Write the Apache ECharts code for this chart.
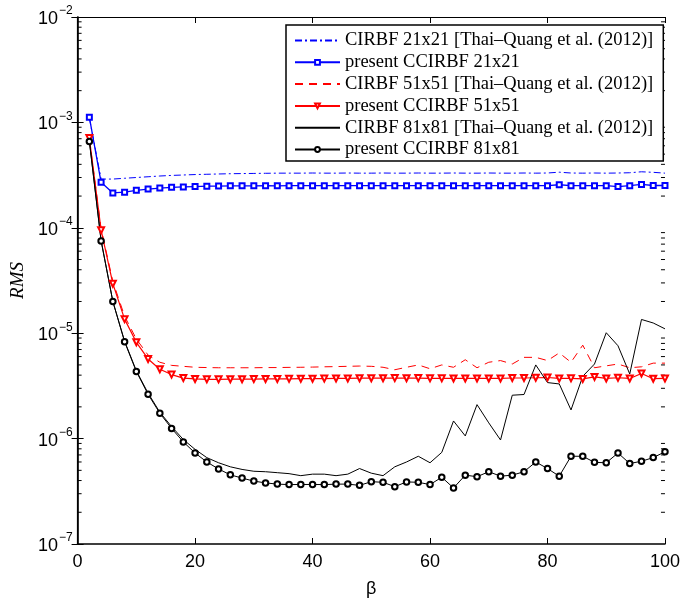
<!DOCTYPE html>
<html><head><meta charset="utf-8">
<script src="https://cdn.jsdelivr.net/npm/echarts@6/dist/echarts.min.js"></script>
<style>html,body{margin:0;padding:0;background:#fff}#c{width:683px;height:603px}</style>
</head><body><div id="c"></div>
<script>
const beta = [2,4,6,8,10,12,14,16,18,20,22,24,26,28,30,32,34,36,38,40,42,44,46,48,50,52,54,56,58,60,62,64,66,68,70,72,74,76,78,80,82,84,86,88,90,92,94,96,98,100];
const seriesNames = ['CIRBF 21x21 [Thai\u2013Quang et al. (2012)]','present CCIRBF 21x21','CIRBF 51x51 [Thai\u2013Quang et al. (2012)]','present CCIRBF 51x51','CIRBF 81x81 [Thai\u2013Quang et al. (2012)]','present CCIRBF 81x81'];
const cirbf21 = [1.10e-3,2.90e-4,2.90e-4,2.95e-4,3.00e-4,3.05e-4,3.10e-4,3.14e-4,3.17e-4,3.20e-4,
 3.22e-4,3.24e-4,3.26e-4,3.27e-4,3.28e-4,3.29e-4,3.30e-4,3.30e-4,3.30e-4,3.31e-4,
 3.30e-4,3.30e-4,3.31e-4,3.30e-4,3.30e-4,3.31e-4,3.30e-4,3.30e-4,3.31e-4,3.30e-4,
 3.30e-4,3.31e-4,3.30e-4,3.30e-4,3.31e-4,3.30e-4,3.30e-4,3.31e-4,3.30e-4,3.31e-4,
 3.37e-4,3.31e-4,3.30e-4,3.31e-4,3.30e-4,3.31e-4,3.33e-4,3.40e-4,3.36e-4,3.30e-4];
const present21 = [1.12e-3,2.70e-4,2.14e-4,2.18e-4,2.27e-4,2.33e-4,2.38e-4,2.42e-4,2.44e-4,2.46e-4,
 2.48e-4,2.49e-4,2.50e-4,2.50e-4,2.50e-4,2.51e-4,2.50e-4,2.51e-4,2.51e-4,2.51e-4,
 2.51e-4,2.51e-4,2.51e-4,2.51e-4,2.51e-4,2.51e-4,2.51e-4,2.51e-4,2.51e-4,2.51e-4,
 2.51e-4,2.51e-4,2.51e-4,2.51e-4,2.51e-4,2.51e-4,2.51e-4,2.51e-4,2.51e-4,2.51e-4,
 2.56e-4,2.51e-4,2.51e-4,2.51e-4,2.51e-4,2.46e-4,2.51e-4,2.58e-4,2.52e-4,2.52e-4];
const cirbf51 = [7.0e-4,9.8e-5,3.1e-5,1.45e-5,8.8e-6,6.2e-6,5.3e-6,4.95e-6,4.85e-6,4.75e-6,
 4.72e-6,4.70e-6,4.70e-6,4.70e-6,4.70e-6,4.72e-6,4.72e-6,4.74e-6,4.75e-6,4.77e-6,
 4.80e-6,4.82e-6,4.85e-6,4.88e-6,4.85e-6,4.75e-6,4.50e-6,4.75e-6,5.0e-6,4.6e-6,
 5.0e-6,4.75e-6,5.6e-6,4.7e-6,5.3e-6,5.5e-6,5.1e-6,5.9e-6,5.9e-6,5.5e-6,
 6.5e-6,5.3e-6,7.7e-6,4.7e-6,4.9e-6,5.1e-6,4.7e-6,4.8e-6,5.2e-6,5.2e-6];
const present51 = [7.1e-4,9.5e-5,2.95e-5,1.36e-5,8.2e-6,5.7e-6,4.55e-6,4.05e-6,3.75e-6,3.68e-6,
 3.65e-6,3.65e-6,3.66e-6,3.66e-6,3.67e-6,3.68e-6,3.68e-6,3.69e-6,3.70e-6,3.70e-6,
 3.71e-6,3.72e-6,3.72e-6,3.74e-6,3.74e-6,3.74e-6,3.75e-6,3.74e-6,3.75e-6,3.73e-6,
 3.73e-6,3.72e-6,3.72e-6,3.72e-6,3.72e-6,3.72e-6,3.76e-6,3.76e-6,3.78e-6,3.80e-6,
 3.72e-6,3.73e-6,3.68e-6,3.85e-6,3.72e-6,3.78e-6,3.72e-6,4.15e-6,3.70e-6,3.72e-6];
const cirbf81 = [6.7e-4,7.6e-5,2.0e-5,8.4e-6,4.4e-6,2.7e-6,1.78e-6,1.3e-6,9.8e-7,7.9e-7,
 6.6e-7,5.9e-7,5.4e-7,5.1e-7,4.9e-7,4.85e-7,4.75e-7,4.65e-7,4.45e-7,4.6e-7,
 4.6e-7,4.45e-7,4.6e-7,5.2e-7,4.7e-7,4.45e-7,5.4e-7,6.0e-7,6.8e-7,5.9e-7,
 7.4e-7,1.47e-6,1.06e-6,2.1e-6,1.41e-6,9.7e-7,2.58e-6,2.62e-6,5.0e-6,3.4e-6,
 3.3e-6,1.87e-6,3.9e-6,5.1e-6,1.01e-5,7.6e-6,4.1e-6,1.35e-5,1.25e-5,1.1e-5];
const present81 = [6.6e-4,7.5e-5,2.0e-5,8.3e-6,4.33e-6,2.63e-6,1.74e-6,1.25e-6,9.3e-7,7.3e-7,
 6.0e-7,5.15e-7,4.53e-7,4.22e-7,3.95e-7,3.8e-7,3.7e-7,3.66e-7,3.67e-7,3.67e-7,
 3.66e-7,3.7e-7,3.7e-7,3.6e-7,3.9e-7,3.85e-7,3.5e-7,3.88e-7,3.85e-7,3.66e-7,
 4.3e-7,3.4e-7,4.5e-7,4.35e-7,4.85e-7,4.4e-7,4.5e-7,4.85e-7,6.0e-7,5.2e-7,
 4.4e-7,6.8e-7,6.8e-7,5.95e-7,5.9e-7,7.3e-7,5.8e-7,6.1e-7,6.6e-7,7.5e-7];
const xTicks = [0,20,40,60,80,100];
const yMinorTicks = [];
for (let e = -7; e <= -3; e++) for (let m = 2; m <= 9; m++) yMinorTicks.push(m * Math.pow(10, e));

const pair = arr => beta.map((b, i) => [b, arr[i]]);
const chart = echarts.init(document.getElementById('c'), null, {renderer: 'canvas'});
const axisBlack = {lineStyle: {color: '#000', width: 1.6}};
const yFmt = v => { const e = Math.round(Math.log10(v)); return '{b|10}{s|\u2212' + Math.abs(e) + '}'; };
const hidden = {opacity: 0};
chart.setOption({
  animation: false,
  backgroundColor: '#fff',
  grid: {left: 73, right: 15, top: 17, bottom: 46, show: false},
  legend: {
    data: [
      {name: seriesNames[0], itemStyle: hidden},
      {name: seriesNames[1]},
      {name: seriesNames[2], itemStyle: hidden},
      {name: seriesNames[3]},
      {name: seriesNames[4], itemStyle: hidden},
      {name: seriesNames[5]}
    ],
    orient: 'vertical', left: 286, top: 25,
    backgroundColor: '#fff', borderColor: '#000', borderWidth: 1.5,
    padding: [6, 10, 2, 8], itemWidth: 45, itemHeight: 6, itemGap: 2.8,
    textStyle: {fontFamily: 'Liberation Serif', fontSize: 18.5, lineHeight: 19, color: '#000'}
  },
  xAxis: [{
    type: 'value', min: 0, max: 100, interval: 20, position: 'bottom',
    axisLine: axisBlack, splitLine: {show: false},
    axisTick: {inside: true, length: 6, lineStyle: {color: '#000'}},
    axisLabel: {color: '#000', fontFamily: 'Liberation Sans', fontSize: 18, margin: 9,
      formatter: v => xTicks.includes(v) ? String(v) : ''},
    name: '\u03b2', nameLocation: 'middle', nameGap: 36,
    nameTextStyle: {color: '#000', fontFamily: 'Liberation Sans', fontSize: 18}
  }, {
    type: 'value', min: 0, max: 100, interval: 20, position: 'top',
    axisLine: {lineStyle: {color: '#000', width: 1.2}}, splitLine: {show: false},
    axisTick: {inside: true, length: 6, lineStyle: {color: '#000'}}, axisLabel: {show: false}
  }],
  yAxis: [{
    type: 'log', logBase: 10, min: 1e-7, max: 1e-2, position: 'left',
    axisLine: axisBlack, splitLine: {show: false},
    axisTick: {inside: true, length: 6, lineStyle: {color: '#000'}},
    axisLabel: {color: '#000', margin: 5, formatter: yFmt, rich: {
      b: {fontFamily: 'Liberation Sans', fontSize: 18, color: '#000', verticalAlign: 'bottom', lineHeight: 22},
      s: {fontFamily: 'Liberation Sans', fontSize: 12, color: '#000', verticalAlign: 'bottom', lineHeight: 22, padding: [0, 0, 11, 1]}
    }},
    name: 'RMS', nameLocation: 'middle', nameGap: 46,
    nameTextStyle: {color: '#000', fontFamily: 'Liberation Serif', fontStyle: 'italic', fontSize: 19}
  }, {
    type: 'log', logBase: 10, min: 1e-7, max: 1e-2, position: 'right',
    axisLine: {lineStyle: {color: '#000', width: 1.2}}, splitLine: {show: false},
    axisTick: {inside: true, length: 6, lineStyle: {color: '#000'}}, axisLabel: {show: false}
  }],
  series: [
    {name: seriesNames[0], type: 'line', data: pair(cirbf21), showSymbol: false, symbol: 'none',
     lineStyle: {color: '#0000ff', width: 1, type: [7, 3, 2, 3]}, itemStyle: {color: '#0000ff'}},
    {name: seriesNames[1], type: 'line', data: pair(present21), symbol: 'emptyRect', symbolSize: 5,
     lineStyle: {color: '#0000ff', width: 1.3}, itemStyle: {color: '#0000ff', borderWidth: 1}},
    {name: seriesNames[2], type: 'line', data: pair(cirbf51), showSymbol: false, symbol: 'none',
     lineStyle: {color: '#ff0000', width: 1, type: [8, 6]}, itemStyle: {color: '#ff0000'}},
    {name: seriesNames[3], type: 'line', data: pair(present51), symbol: 'emptyTriangle', symbolRotate: 180, symbolSize: 6,
     lineStyle: {color: '#ff0000', width: 1.2}, itemStyle: {color: '#ff0000', borderWidth: 1}},
    {name: seriesNames[4], type: 'line', data: pair(cirbf81), showSymbol: false, symbol: 'none',
     lineStyle: {color: '#000', width: 1}, itemStyle: {color: '#000'}},
    {name: seriesNames[5], type: 'line', data: pair(present81), symbol: 'emptyCircle', symbolSize: 5.5,
     lineStyle: {color: '#000', width: 1}, itemStyle: {color: '#000', borderWidth: 1}},
    {name: 'minorTicks', type: 'custom', silent: true, clip: false, xAxisIndex: 0, yAxisIndex: 0,
     data: yMinorTicks.map(v => [0, v]),
     renderItem: (params, api) => {
       const v = api.value(1);
       const pL = api.coord([0, v]);
       const pR = api.coord([100, v]);
       return {type: 'group', children: [
         {type: 'line', shape: {x1: pL[0], y1: pL[1], x2: pL[0] + 4, y2: pL[1]}, style: {stroke: '#000', lineWidth: 1}},
         {type: 'line', shape: {x1: pR[0], y1: pR[1], x2: pR[0] - 4, y2: pR[1]}, style: {stroke: '#000', lineWidth: 1}}
       ]};
     }}
  ]
});
</script></body></html>
